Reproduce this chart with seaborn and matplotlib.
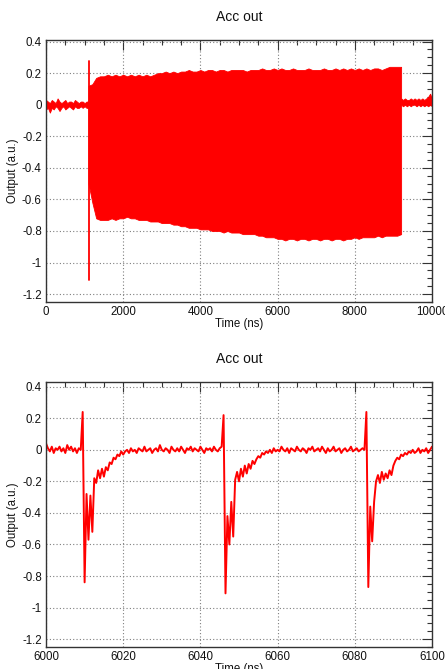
import numpy as np
import matplotlib
matplotlib.use("Agg")
import matplotlib.pyplot as plt
from matplotlib.ticker import MultipleLocator
import seaborn as sns

# ---------------- data ----------------
title_text = "Acc out"
x_label = "Time (ns)"
y_label = "Output (a.u.)"
y_ticks = [-1.2, -1.0, -0.8, -0.6, -0.4, -0.2, 0.0, 0.2, 0.4]
y_tick_labels = ["-1.2", "-1", "-0.8", "-0.6", "-0.4", "-0.2", "0", "0.2", "0.4"]

# top panel, baseline before the pulse train (every 50 ns, 0..1100 ns)
pre_time = list(range(0, 1101, 50))
pre_upper = [0.03, 0.02, 0.01, 0.03, 0.02, 0.01, 0.04, 0.02, 0.01, 0.02, 0.03, 0.01,
             0.02, 0.02, 0.01, 0.03, 0.02, 0.01, 0.02, 0.02, 0.01, 0.02, 0.02]
pre_lower = [-0.03, -0.02, -0.05, -0.02, -0.03, -0.01, -0.02, -0.04, -0.02, -0.01, -0.03, -0.02,
             -0.01, -0.02, -0.03, -0.01, -0.02, -0.02, -0.01, -0.02, -0.01, -0.02, -0.02]

# top panel, envelope of the pulse train (every 100 ns, 1100..9200 ns)
train_time = list(range(1100, 9201, 100))
train_upper = [
    0.12, 0.13, 0.17, 0.18, 0.18, 0.19, 0.18, 0.19, 0.18,
    0.19, 0.18, 0.19, 0.18, 0.19, 0.18, 0.19, 0.18, 0.19, 0.20,
    0.20, 0.21, 0.20, 0.21, 0.20, 0.21, 0.21, 0.22, 0.21, 0.21,
    0.22, 0.21, 0.22, 0.22, 0.21, 0.22, 0.22, 0.21, 0.22, 0.22,
    0.22, 0.22, 0.21, 0.22, 0.22, 0.22, 0.23, 0.22, 0.22, 0.23,
    0.22, 0.23, 0.22, 0.22, 0.23, 0.22, 0.22, 0.22, 0.23, 0.22,
    0.22, 0.22, 0.23, 0.22, 0.22, 0.23, 0.22, 0.23, 0.22, 0.23,
    0.22, 0.23, 0.22, 0.23, 0.22, 0.23, 0.23, 0.22, 0.23, 0.24,
    0.24, 0.24, 0.24,
]
train_lower = [
    -0.50, -0.62, -0.72, -0.73, -0.73, -0.73, -0.72, -0.73, -0.72,
    -0.72, -0.71, -0.72, -0.72, -0.73, -0.73, -0.73, -0.74, -0.74, -0.74,
    -0.75, -0.75, -0.75, -0.76, -0.76, -0.77, -0.77, -0.78, -0.78, -0.78,
    -0.79, -0.79, -0.79, -0.80, -0.80, -0.80, -0.81, -0.80, -0.81, -0.81,
    -0.81, -0.82, -0.82, -0.82, -0.82, -0.83, -0.83, -0.84, -0.84, -0.84,
    -0.85, -0.85, -0.86, -0.85, -0.85, -0.86, -0.85, -0.85, -0.86, -0.85,
    -0.85, -0.86, -0.85, -0.85, -0.86, -0.85, -0.85, -0.86, -0.85, -0.85,
    -0.84, -0.85, -0.84, -0.84, -0.84, -0.84, -0.83, -0.84, -0.83, -0.83,
    -0.83, -0.83, -0.82,
]

# top panel, baseline after the pulse train (every 50 ns, 9200..10000 ns)
post_time = list(range(9200, 10001, 50))
post_upper = [0.04, 0.03, 0.04, 0.03, 0.03, 0.04, 0.03, 0.04, 0.03,
              0.04, 0.03, 0.04, 0.03, 0.04, 0.05, 0.07, 0.04]
post_lower = [0.00, -0.01, 0.00, -0.01, 0.00, -0.01, 0.00, 0.00, -0.01,
              0.00, -0.01, 0.00, -0.01, 0.00, -0.01, 0.00, -0.01]

# first pulse spike in the top panel
spike_time = [1110, 1110]
spike_value = [-1.11, 0.28]

# bottom panel: zoomed waveform, sampled every 0.5 ns from 6000 to 6100 ns
zoom_time = [6000 + 0.5 * i for i in range(201)]
zoom_value = [
    0.04, 0.01, -0.01, 0.02, -0.02, 0.01, 0.00, 0.02, -0.01, 0.01,
    -0.02, 0.03, 0.00, 0.02, -0.01, 0.01, -0.02, 0.01, 0.00, 0.24,
    -0.84, -0.28, -0.57, -0.29, -0.52, -0.18, -0.21, -0.13, -0.18, -0.12,
    -0.17, -0.11, -0.13, -0.08, -0.09, -0.05, -0.06, -0.03, -0.04, -0.01,
    -0.03, -0.01, 0.00, -0.02, 0.01, -0.01, 0.00, -0.02, 0.01, 0.00,
    -0.01, 0.02, -0.01, 0.00, 0.01, -0.02, 0.00, 0.01, -0.01, 0.03,
    0.00, -0.01, 0.01, 0.00, -0.02, 0.02, 0.00, -0.01, 0.01, -0.01,
    0.02, 0.00, -0.02, 0.01, 0.00, 0.02, -0.01, 0.01, 0.00, -0.01,
    0.02, 0.00, -0.02, 0.01, 0.00, 0.01, -0.01, 0.02, 0.00, -0.01,
    0.01, 0.02, 0.22, -0.91, -0.42, -0.60, -0.33, -0.55, -0.19, -0.14,
    -0.20, -0.12, -0.17, -0.10, -0.15, -0.09, -0.12, -0.07, -0.09, -0.06,
    -0.04, -0.05, -0.02, -0.03, -0.01, -0.02, 0.00, -0.02, 0.01, -0.01,
    0.00, -0.01, 0.02, 0.00, -0.01, 0.01, -0.02, 0.01, 0.00, -0.01,
    0.02, 0.00, -0.01, 0.01, 0.00, -0.02, 0.01, 0.00, 0.02, -0.01,
    0.00, 0.01, -0.01, 0.02, 0.00, -0.02, 0.01, -0.01, 0.00, 0.02,
    -0.01, 0.00, 0.01, -0.02, 0.00, 0.01, -0.01, 0.00, 0.02, -0.01,
    0.00, 0.01, -0.01, 0.00, 0.01, 0.00, 0.24, -0.87, -0.36, -0.58,
    -0.33, -0.20, -0.16, -0.21, -0.14, -0.19, -0.15, -0.18, -0.13, -0.16,
    -0.10, -0.07, -0.05, -0.06, -0.03, -0.04, -0.02, -0.03, -0.01, -0.02,
    0.00, -0.02, -0.01, 0.01, -0.02, 0.00, -0.01, 0.01, -0.02, 0.00,
    0.02,
]

top_xticks = [0, 2000, 4000, 6000, 8000, 10000]
bottom_xticks = [6000, 6020, 6040, 6060, 6080, 6100]

# ---------------- style ----------------
sns.set_theme(style="white")
plt.rcParams['font.family'] = ['Liberation Sans', 'DejaVu Sans']
plt.rcParams['axes.axisbelow'] = True

fig = plt.figure(figsize=(4.45, 6.69), dpi=100)
ax1 = fig.add_axes([0.1034, 0.5486, 0.8674, 0.3916])
ax2 = fig.add_axes([0.1034, 0.0329, 0.8674, 0.3961])

RED = "#ff0000"


def style(ax, xlim, ylim, xticks, xminor):
    ax.set_xlim(*xlim)
    ax.set_ylim(*ylim)
    ax.set_xticks(xticks)
    ax.set_xticklabels([str(v) for v in xticks])
    ax.xaxis.set_minor_locator(MultipleLocator(xminor))
    ax.set_yticks(y_ticks)
    ax.set_yticklabels(y_tick_labels)
    ax.yaxis.set_minor_locator(MultipleLocator(0.05))
    ax.tick_params(which='both', direction='in', top=True, right=True,
                   labelsize=8.3, pad=3, color='#333333', width=0.8,
                   labelcolor='#111111')
    ax.tick_params(which='major', length=7)
    ax.tick_params(which='minor', length=3.5)
    ax.grid(True, which='major', linestyle=(0, (1, 2)), color='#7f7f7f', lw=0.8)
    for s in ax.spines.values():
        s.set_color('#333333')
        s.set_linewidth(1.0)
    ax.set_title(title_text, fontsize=10, pad=14, color='#111111')
    ax.set_xlabel(x_label, fontsize=8.3, labelpad=0, color='#111111')
    ax.set_ylabel(y_label, fontsize=8.3, labelpad=2, color='#111111')


# top panel
for t, lo, hi in ((pre_time, pre_lower, pre_upper),
                  (train_time, train_lower, train_upper),
                  (post_time, post_lower, post_upper)):
    ax1.fill_between(t, lo, hi, color=RED, lw=0.6, edgecolor=RED)
sns.lineplot(x=spike_time, y=spike_value, ax=ax1, color=RED, lw=1.3,
             estimator=None, sort=False)
style(ax1, (0, 10000), (-1.25, 0.41), top_xticks, 500)

# bottom panel
sns.lineplot(x=zoom_time, y=zoom_value, ax=ax2, color=RED, lw=1.4,
             estimator=None, sort=False)
style(ax2, (6000, 6100), (-1.25, 0.43), bottom_xticks, 5)

fig.savefig("out.png", dpi=100)
